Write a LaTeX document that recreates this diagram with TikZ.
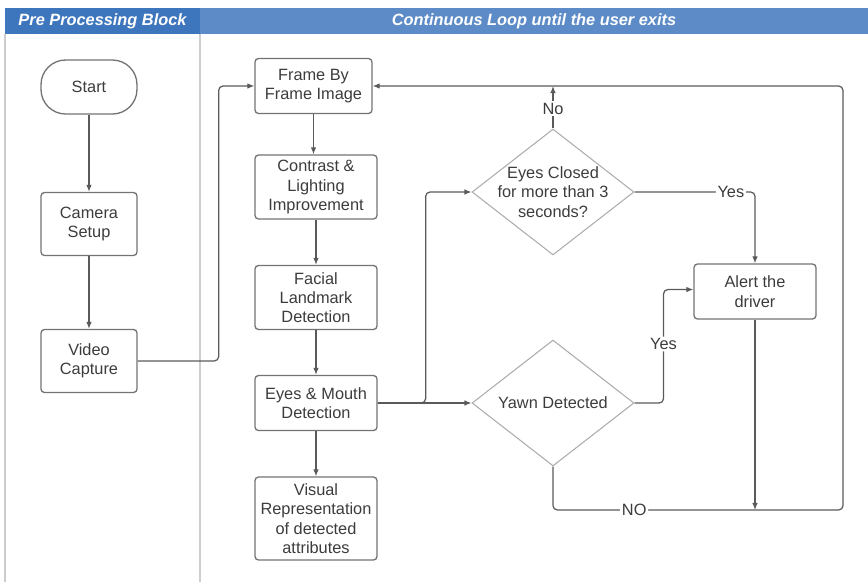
\documentclass[tikz,border=0pt]{standalone}
\usepackage{fontspec}
\setmainfont{Liberation Sans}
\usepackage{tikz}
\usetikzlibrary{arrows.meta,shapes.geometric,positioning}
\definecolor{hdrdark}{RGB}{62,118,189}
\definecolor{hdrlight}{RGB}{92,139,199}
\definecolor{flowline}{RGB}{90,90,90}
\definecolor{flowtext}{RGB}{60,60,60}
\definecolor{laneline}{RGB}{205,205,205}
\tikzset{procbox/.style={rectangle, rounded corners=2pt, draw=flowline!85, line width=0.75pt,
  align=center, text=flowtext, inner sep=1pt, minimum width=2.44cm, minimum height=1.28cm}}
\tikzset{startbox/.style={procbox, rounded corners=14pt, minimum width=1.92cm, minimum height=1.08cm}}
\tikzset{decbox/.style={diamond, draw=flowline!50, line width=0.6pt, inner sep=0pt,
  minimum width=3.24cm, minimum height=2.52cm}}
\tikzset{lanehdr/.style={rectangle, text=white, font=\fontsize{9.3}{11}\selectfont\bfseries\itshape,
  minimum height=0.52cm, inner sep=0pt}}
\tikzset{flow/.style={-{Latex[length=4pt,width=3.2pt]}, draw=flowline, line width=0.7pt, rounded corners=2.5pt}}
\tikzset{branch/.style={fill=white, inner sep=1pt, text=flowtext}}

\begin{document}
\begin{tikzpicture}[x=0.02cm, y=-0.02cm, font=\fontsize{9.3}{11}\selectfont]
  \useasboundingbox (0,0) rectangle (868,582);
  % lane headers and separators
  \node[lanehdr, fill=hdrdark, minimum width=3.9cm] (prehdr) at (102.5,21) {Pre Processing Block};
  \node[lanehdr, fill=hdrlight, minimum width=13.36cm] (loophdr) at (534,21) {Continuous Loop until the user exits};
  \draw[laneline, line width=0.8pt] (5,34) -- (5,582);
  \draw[laneline, line width=0.8pt] (200,34) -- (200,582);

  % pre processing lane
  \node[startbox] (start) at (89,87) {Start};
  \node[procbox, minimum width=1.92cm, minimum height=1.26cm] (camera) at (89,224) {Camera\\Setup};
  \node[procbox, minimum width=1.92cm, minimum height=1.26cm] (video) at (89,361) {Video\\Capture};

  % main loop
  \node[procbox, minimum width=2.34cm, minimum height=1.1cm] (frame) at (313.5,86) {Frame By\\Frame Image};
  \node[procbox] (contrast) at (316,187) {Contrast \&\\Lighting\\Improvement};
  \node[procbox] (landmark) at (316,297.5) {Facial\\Landmark\\Detection};
  \node[procbox, minimum height=1.1cm] (eyesmouth) at (316,403) {Eyes \& Mouth\\Detection};
  \node[procbox, minimum height=1.66cm] (visual) at (316,518.5) {Visual\\Representation\\of detected\\attributes};
  \node[decbox, label={[align=center, text=flowtext]center:Eyes Closed\\for more than 3\\seconds?}] (closed) at (553,192) {};
  \node[decbox, label={[text=flowtext]center:Yawn Detected}] (yawn) at (553,403) {};
  \node[procbox, minimum height=1.1cm] (alert) at (755,291.5) {Alert the\\driver};
  \coordinate (loopbr) at (843,510);

  \draw[flow] (start) -- (camera);
  \draw[flow] (camera) -- (video);
  \draw[flow] (video.east) -- ++(81,0) |- (frame.west);
  \draw[flow] (frame.south) -- (frame.south |- contrast.north);
  \draw[flow] (contrast) -- (landmark);
  \draw[flow] (landmark) -- (eyesmouth);
  \draw[flow] (eyesmouth) -- (visual);
  \draw[flow] (eyesmouth.east) -- (yawn.west);
  \draw[flow] (eyesmouth.east) -- ++(48,0) |- (closed.west);
  \draw[flow] (closed.north) -- node[branch, pos=0.47] {No} (closed.north |- frame.east);
  \draw[flow] (closed.east) -| node[branch, pos=0.4] {Yes} (alert.north);
  \draw[flow] (yawn.east) -- ++(29,0) |- node[branch, pos=0.26] {Yes} ([yshift=0.04cm]alert.west);
  \draw[flow] (yawn.south) |- node[branch, pos=0.64] {NO} (loopbr) |- (frame.east);
  \draw[flow] (alert.south) -- (alert.south |- loopbr);
\end{tikzpicture}
\end{document}
